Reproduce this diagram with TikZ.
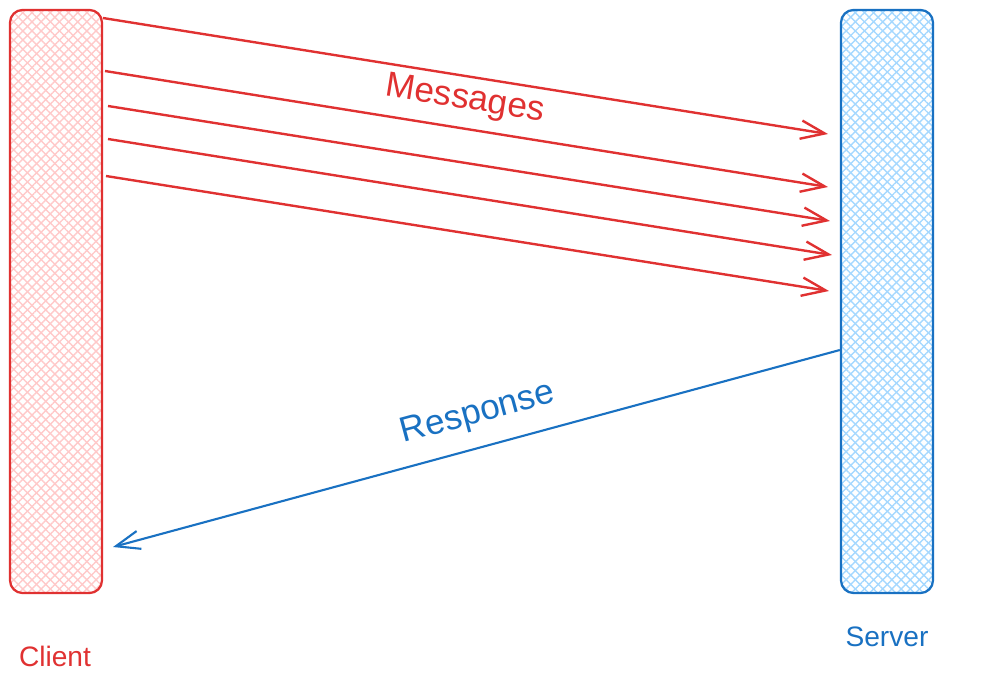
\documentclass[tikz,border=0pt]{standalone}
\usepackage{fontspec}
\setmainfont{Liberation Sans}
\usepackage{tikz}
\usetikzlibrary{arrows.meta,positioning,patterns.meta,calc}
\definecolor{clientred}{RGB}{224,49,49}
\definecolor{clienthatch}{RGB}{255,201,201}
\definecolor{serverblue}{RGB}{25,113,194}
\definecolor{serverhatch}{RGB}{165,216,255}
\tikzset{
  lane/.style={rectangle, rounded corners=9pt, line width=1.6pt,
               minimum width=2.3cm, minimum height=14.575cm, inner sep=0pt},
  clientlane/.style={lane, draw=clientred,
               preaction={pattern={Lines[angle=45,distance=4.6pt,line width=1pt]}, pattern color=clienthatch},
               preaction={pattern={Lines[angle=-45,distance=4.6pt,line width=1pt]}, pattern color=clienthatch}},
  serverlane/.style={lane, draw=serverblue,
               preaction={pattern={Lines[angle=45,distance=4.6pt,line width=1pt]}, pattern color=serverhatch},
               preaction={pattern={Lines[angle=-45,distance=4.6pt,line width=1pt]}, pattern color=serverhatch}},
  msg/.style={-{Straight Barb[length=6mm,width=4.6mm,line width=1.7pt]}, line width=1.7pt, clientred},
  reply/.style={-{Straight Barb[length=6mm,width=4.6mm,line width=1.5pt]}, line width=1.5pt, serverblue},
  tag/.style={font=\fontsize{25}{30}\selectfont, inner sep=0pt},
  lanename/.style={font=\fontsize{20}{24}\selectfont, inner sep=0pt},
}
\begin{document}
\begin{tikzpicture}[x=0.025cm, y=-0.025cm]
\useasboundingbox (0,0) rectangle (996,685);
\node[clientlane] (client) at (56,301.5) {};
\node[serverlane] (server) at (887,301.5) {};
\node[lanename, text=clientred] (clientname) at (55,656) {Client};
\node[lanename, text=serverblue] (servername) at (887,637) {Server};
% message arrows
\coordinate (m1s) at (103,18);  \coordinate (m1e) at (828,134);
\coordinate (m2s) at (105,71);  \coordinate (m2e) at (828,187);
\coordinate (m3s) at (108,106); \coordinate (m3e) at (830,221);
\coordinate (m4s) at (108,139); \coordinate (m4e) at (832,255);
\coordinate (m5s) at (106,176); \coordinate (m5e) at (829,291);
\foreach \i in {1,...,5}
  \draw[msg] (m\i s) -- (m\i e);
\node[tag, text=clientred, rotate=-9.1] (msglabel) at (465,100) {Messages};
% response arrow
\coordinate (rs) at (server.west |- 0,350);
\coordinate (re) at (113,547);
\draw[reply] (rs) -- (re);
\node[tag, text=serverblue, rotate=15.1] (replylabel) at (478,414) {Response};
\end{tikzpicture}
\end{document}
